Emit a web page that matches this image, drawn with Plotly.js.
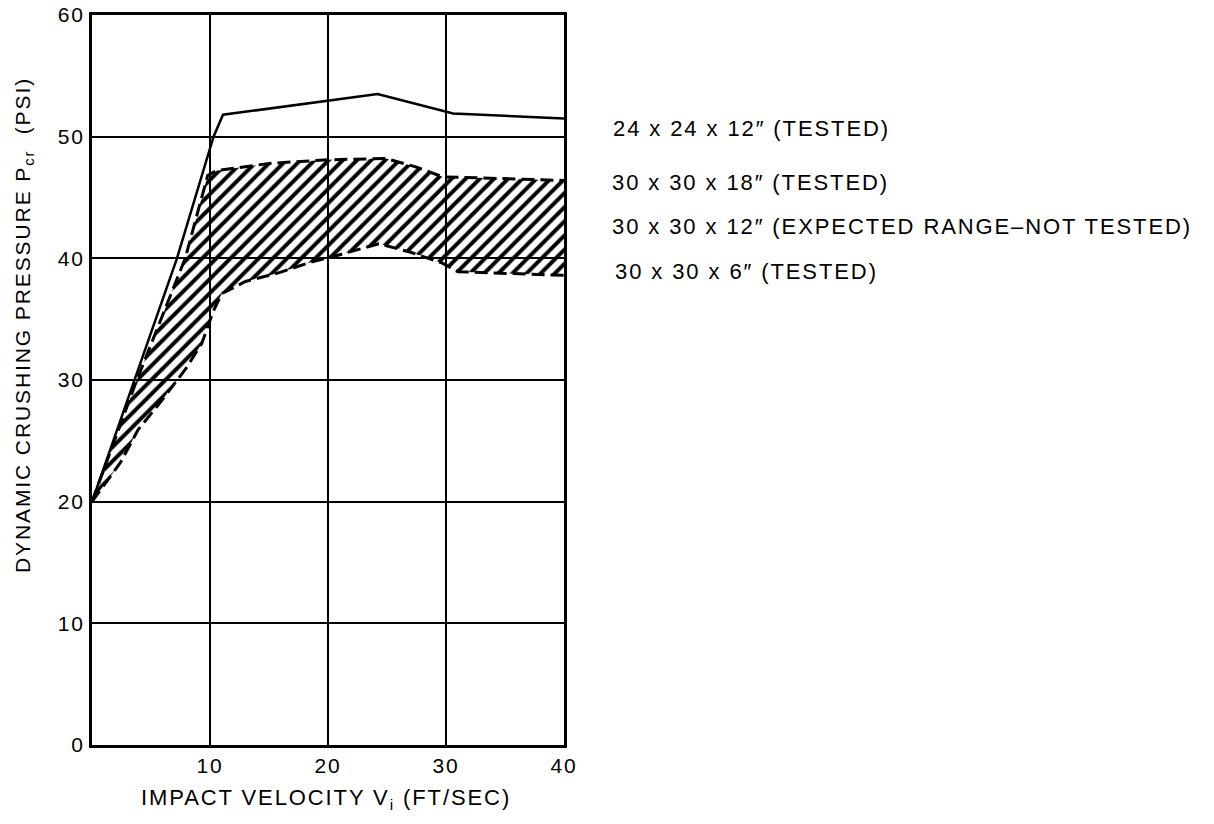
<!DOCTYPE html>
<html>
<head>
<meta charset="utf-8">
<script src="https://cdn.plot.ly/plotly-3.0.1.min.js"></script>
<style>
  html, body { margin: 0; padding: 0; background: #fff; }
  svg text { letter-spacing: 1.9px; }
</style>
</head>
<body>
<div id="chart" style="width:1214px;height:824px;"></div>
<script>
// 24 x 24 x 12" (TESTED) - solid curve
const v24 = [0, 7.2, 10.3, 11.1, 24.2, 30.6, 40];
const p24 = [20, 40, 50, 51.8, 53.5, 51.9, 51.5];

// 30 x 30 x 18" (TESTED) - upper dashed boundary
const v18 = [0, 3.8, 7.9, 9.8, 10.5, 15, 20, 24.9, 27.5, 29.7, 40];
const p18 = [20, 30, 40, 46.8, 47.2, 47.8, 48.1, 48.2, 47.5, 46.7, 46.4];

// 30 x 30 x 6" (TESTED) - lower dashed boundary
const v6 = [0, 2.4, 3.9, 5.9, 8, 9.3, 10.3, 11, 13, 15.8, 18.6, 21, 24.3, 27, 29.7, 31, 40];
const p6 = [20, 23.2, 25.9, 28.3, 31, 33, 35.7, 37.1, 38.1, 38.8, 39.7, 40.3, 41.2, 40.5, 39.6, 38.9, 38.6];

const xTicks = [10, 20, 30, 40];
const yTicks = [0, 10, 20, 30, 40, 50, 60];

const labels = [
  '24 x 24 x 12″ (TESTED)',
  '30 x 30 x 18″ (TESTED)',
  '30 x 30 x 12″ (EXPECTED RANGE–NOT TESTED)',
  '30 x 30 x 6″ (TESTED)'
];
const labelY = [50.7, 46.2, 42.6, 38.9];
const labelPx = [611, 610, 610, 613];

const FONT = 'Liberation Sans, Arial, sans-serif';

// hatched region (expected range) between upper and lower boundaries
const bandX = v18.concat(v6.slice().reverse());
const bandY = p18.concat(p6.slice().reverse());

const traces = [
  {
    x: bandX, y: bandY, mode: 'lines', fill: 'toself',
    line: {width: 0, color: 'rgba(0,0,0,0)'},
    fillcolor: 'rgba(255,255,255,0)',
    fillpattern: {shape: '/', fgcolor: '#000', bgcolor: 'rgba(255,255,255,0)', size: 10, solidity: 0.4},
    hoverinfo: 'skip', showlegend: false
  },
  {
    x: v18, y: p18, mode: 'lines',
    line: {color: '#000', width: 3, dash: '13px,6px'},
    showlegend: false
  },
  {
    x: v6, y: p6, mode: 'lines',
    line: {color: '#000', width: 3, dash: '13px,6px'},
    showlegend: false
  },
  {
    x: v24, y: p24, mode: 'lines',
    line: {color: '#000', width: 2.5},
    showlegend: false
  }
];

const annotations = labels.map((t, i) => ({
  text: t, xref: 'paper', yref: 'y', x: (labelPx[i] - 92) / 472, y: labelY[i],
  xanchor: 'left', yanchor: 'middle', showarrow: false,
  font: {family: FONT, size: 22, color: '#000'}
}));

annotations.push({
  text: 'IMPACT VELOCITY V<sub>i</sub> (FT/SEC)',
  xref: 'paper', yref: 'paper', x: (326 - 92) / 472, y: (745 - 799) / 730,
  xanchor: 'center', yanchor: 'middle', showarrow: false,
  font: {family: FONT, size: 22, color: '#000'}
});
annotations.push({
  text: 'DYNAMIC CRUSHING PRESSURE P<sub>cr</sub>  (PSI)',
  xref: 'paper', yref: 'paper', x: (24 - 92) / 472, y: (745 - 325) / 730,
  xanchor: 'center', yanchor: 'middle', showarrow: false, textangle: -90,
  font: {family: FONT, size: 21, color: '#000'}
});

const layout = {
  width: 1214, height: 824,
  margin: {l: 92, r: 650, t: 15, b: 79, pad: 0},
  paper_bgcolor: '#fff', plot_bgcolor: '#fff',
  showlegend: false,
  xaxis: {
    range: [0, 40], tickvals: xTicks, ticktext: xTicks.map(String),
    showgrid: true, gridcolor: '#000', gridwidth: 2,
    zeroline: false, showline: true, linecolor: '#000', linewidth: 3, mirror: true,
    ticks: '', ticklabelstandoff: 0,
    tickfont: {family: FONT, size: 21, color: '#000'}
  },
  yaxis: {
    range: [0, 60], tickvals: yTicks, ticktext: yTicks.map(String),
    showgrid: true, gridcolor: '#000', gridwidth: 2,
    zeroline: false, showline: true, linecolor: '#000', linewidth: 3, mirror: true,
    ticks: '', ticklabelstandoff: 0,
    tickfont: {family: FONT, size: 21, color: '#000'}
  },
  annotations: annotations
};

Plotly.newPlot('chart', traces, layout, {staticPlot: true, displayModeBar: false});
</script>
</body>
</html>
